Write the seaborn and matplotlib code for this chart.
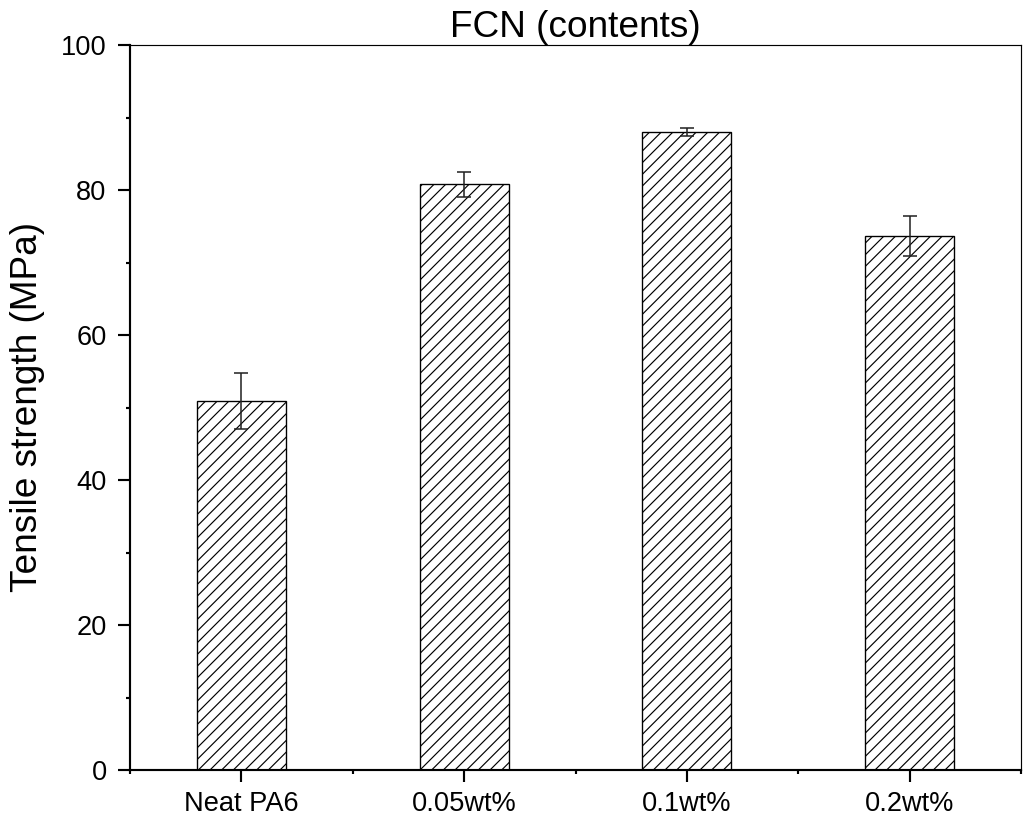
import matplotlib
matplotlib.use("Agg")
import matplotlib.pyplot as plt
import seaborn as sns
import pandas as pd
from matplotlib.ticker import FixedLocator, MultipleLocator

categories = ["Neat PA6", "0.05wt%", "0.1wt%", "0.2wt%"]
strength = [50.9, 80.8, 88.0, 73.7]
strength_err = [3.8, 1.7, 0.5, 2.75]
title = "FCN (contents)"
ylabel = "Tensile strength (MPa)"

df = pd.DataFrame({"sample": categories, "strength": strength})

sns.set_style("ticks")
plt.rcParams["font.family"] = ["Liberation Sans", "DejaVu Sans"]
plt.rcParams["hatch.linewidth"] = 0.6
plt.rcParams["hatch.color"] = "#333333"
plt.rcParams["text.color"] = "black"
plt.rcParams["axes.labelcolor"] = "black"

fig = plt.figure(figsize=(1024 / 140, 819 / 140), dpi=140)
ax = fig.add_axes([130 / 1024, 1 - 770 / 819, 891 / 1024, 725 / 819])

sns.barplot(data=df, x="sample", y="strength", order=categories, ax=ax,
            color="white", saturation=1, edgecolor="black", linewidth=0.7,
            width=0.4, hatch="////", errorbar=None)

xpos = ax.get_xticks()
ax.errorbar(xpos, strength, yerr=strength_err, fmt="none", ecolor="#222222",
            elinewidth=0.8, capsize=3.5, capthick=0.8, zorder=5)

ax.set_xlim(-0.5, 3.5)
ax.set_ylim(0, 100)
ax.yaxis.set_major_locator(MultipleLocator(20))
ax.yaxis.set_minor_locator(MultipleLocator(10))
ax.xaxis.set_minor_locator(FixedLocator([-0.5, 0.5, 1.5, 2.5, 3.5]))

ax.set_xlabel("")
ax.set_ylabel(ylabel, fontsize=19, color="black")
ax.yaxis.set_label_coords(-0.095, 0.5)
ax.set_title(title, fontsize=19, pad=3, color="black")

for side in ["left", "bottom"]:
    ax.spines[side].set_linewidth(1.1)
    ax.spines[side].set_color("black")
for side in ["top", "right"]:
    ax.spines[side].set_linewidth(0.6)
    ax.spines[side].set_visible(True)
    ax.spines[side].set_color("black")

ax.tick_params(axis="both", which="major", direction="out", length=6, width=1.1,
               labelsize=14, colors="black")
ax.tick_params(axis="both", which="minor", direction="out", length=2.2, width=1.1,
               colors="black")
ax.tick_params(axis="y", which="major", pad=6)
ax.tick_params(axis="x", which="major", pad=5)
ax.tick_params(top=False, right=False, which="both")

fig.savefig("out.png", dpi=140)
